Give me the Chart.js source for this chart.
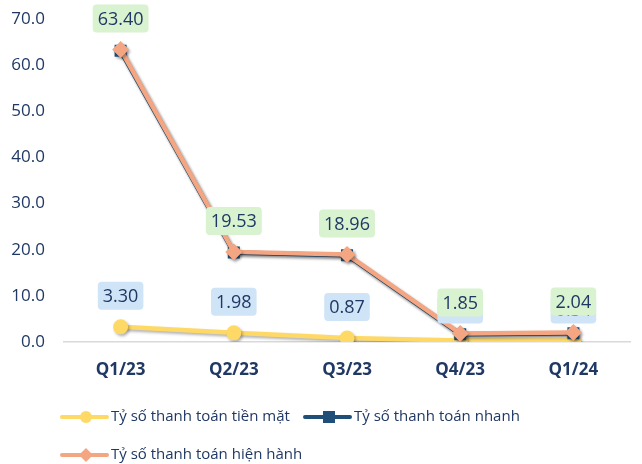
<!DOCTYPE html>
<html>
<head>
<meta charset="utf-8">
<script src="https://cdn.jsdelivr.net/npm/chart.js@4.4.1/dist/chart.umd.min.js"></script>
<style>
html,body{margin:0;padding:0;background:#fff;}
#wrap{width:642px;height:464px;position:relative;}
</style>
</head>
<body>
<div id="wrap"><canvas id="c" width="642" height="464"></canvas></div>
<script>
const categories = ["Q1/23", "Q2/23", "Q3/23", "Q4/23", "Q1/24"];
const cashRatio = [3.30, 1.98, 0.87, 0.30, 0.34];
const quickRatio = [63.1, 19.4, 18.8, 1.7, 1.9];
const currentRatio = [63.40, 19.53, 18.96, 1.85, 2.04];
const seriesNames = ["Tỷ số thanh toán tiền mặt", "Tỷ số thanh toán nhanh", "Tỷ số thanh toán hiện hành"];
const yTicks = [0, 10, 20, 30, 40, 50, 60, 70];

const NAVY = "#1F3864";
const FONT = "'Open Sans', 'Noto Sans', sans-serif";

const shadowPlugin = {
  id: 'shadow',
  beforeDatasetsDraw(chart) {
    const ctx = chart.ctx;
    ctx.save();
    ctx.shadowColor = 'rgba(0,0,0,0.3)';
    ctx.shadowBlur = 3;
    ctx.shadowOffsetX = 1.5;
    ctx.shadowOffsetY = 2;
  },
  afterDatasetsDraw(chart) {
    chart.ctx.restore();
  }
};

function roundRect(ctx, x, y, w, h, r) {
  ctx.beginPath();
  ctx.moveTo(x + r, y);
  ctx.lineTo(x + w - r, y);
  ctx.quadraticCurveTo(x + w, y, x + w, y + r);
  ctx.lineTo(x + w, y + h - r);
  ctx.quadraticCurveTo(x + w, y + h, x + w - r, y + h);
  ctx.lineTo(x + r, y + h);
  ctx.quadraticCurveTo(x, y + h, x, y + h - r);
  ctx.lineTo(x, y + r);
  ctx.quadraticCurveTo(x, y, x + r, y);
  ctx.closePath();
}

const labelPlugin = {
  id: 'valueLabels',
  afterDatasetsDraw(chart) {
    const ctx = chart.ctx;
    const cfg = [
      { idx: 0, bg: '#CFE4F7' },
      { idx: 2, bg: '#D9F2D0' }
    ];
    ctx.save();
    ctx.font = "18px " + FONT;
    ctx.textAlign = 'center';
    ctx.textBaseline = 'middle';
    cfg.forEach(c => {
      const meta = chart.getDatasetMeta(c.idx);
      const data = chart.data.datasets[c.idx].data;
      meta.data.forEach((pt, i) => {
        const txt = data[i].toFixed(2);
        const w = ctx.measureText(txt).width + 10;
        const h = 28;
        const cx = pt.x, cy = pt.y - 31;
        ctx.fillStyle = c.bg;
        roundRect(ctx, cx - w / 2, cy - h / 2, w, h, 4);
        ctx.fill();
        ctx.fillStyle = NAVY;
        ctx.fillText(txt, cx, cy + 1);
      });
    });
    ctx.restore();
  }
};

const legendPlugin = {
  id: 'customLegend',
  afterDraw(chart) {
    const ctx = chart.ctx;
    const items = [
      { ds: 0, x: 62, y: 417 },
      { ds: 1, x: 305, y: 417 },
      { ds: 2, x: 62, y: 455 }
    ];
    ctx.save();
    items.forEach(it => {
      const d = chart.data.datasets[it.ds];
      ctx.strokeStyle = d.borderColor;
      ctx.lineWidth = 4;
      ctx.lineCap = 'round';
      ctx.beginPath();
      ctx.moveTo(it.x, it.y);
      ctx.lineTo(it.x + 45, it.y);
      ctx.stroke();
      const mx = it.x + 24;
      ctx.fillStyle = d.pointBackgroundColor;
      if (d.pointStyle === 'circle') {
        ctx.beginPath(); ctx.arc(mx, it.y, 6, 0, Math.PI * 2); ctx.fill();
      } else if (d.pointStyle === 'rect') {
        ctx.fillRect(mx - 6, it.y - 6, 12, 12);
      } else {
        ctx.beginPath();
        ctx.moveTo(mx, it.y - 7); ctx.lineTo(mx + 7, it.y); ctx.lineTo(mx, it.y + 7); ctx.lineTo(mx - 7, it.y);
        ctx.closePath(); ctx.fill();
      }
      ctx.fillStyle = NAVY;
      ctx.font = "15px " + FONT;
      ctx.textAlign = 'left';
      ctx.textBaseline = 'middle';
      ctx.fillText(seriesNames[it.ds], it.x + 49, it.y);
    });
    ctx.restore();
  }
};

new Chart(document.getElementById('c'), {
  type: 'line',
  data: {
    labels: categories,
    datasets: [
      {
        label: seriesNames[0], data: cashRatio, order: 3,
        borderColor: '#FFD966', backgroundColor: '#FFD966',
        pointBackgroundColor: '#FFD966', pointBorderColor: '#FFD966', pointBorderWidth: 0,
        pointStyle: 'circle', pointRadius: 7.5, borderWidth: 4.5, tension: 0
      },
      {
        label: seriesNames[1], data: quickRatio, order: 2,
        borderColor: '#1F4E79', backgroundColor: '#1F4E79',
        pointBackgroundColor: '#1F4E79', pointBorderColor: '#1F4E79', pointBorderWidth: 0,
        pointStyle: 'rect', pointRadius: 8.5, borderWidth: 4.5, tension: 0
      },
      {
        label: seriesNames[2], data: currentRatio, order: 1,
        borderColor: '#F4A582', backgroundColor: '#F4A582',
        pointBackgroundColor: '#F4A582', pointBorderColor: '#F4A582', pointBorderWidth: 0,
        pointStyle: 'rectRot', pointRadius: 8.5, borderWidth: 4.5, tension: 0
      }
    ]
  },
  options: {
    responsive: false,
    animation: false,
    devicePixelRatio: 1,
    layout: { padding: { top: 19, right: 12, left: 0, bottom: 0 } },
    plugins: { legend: { display: false }, tooltip: { enabled: false } },
    scales: {
      x: {
        offset: true,
        grid: { display: false, drawTicks: false, offset: true },
        border: { display: true, color: '#D9D9D9', width: 1.5 },
        ticks: { color: NAVY, font: { family: FONT, size: 17, weight: 'bold' }, padding: 18, maxRotation: 0 },
        afterFit(s) { s.height = 122; }
      },
      y: {
        min: 0, max: 70,
        afterBuildTicks(s) { s.ticks = yTicks.map(v => ({ value: v })); },
        grid: { display: false, drawTicks: false },
        border: { display: false },
        ticks: { color: NAVY, font: { family: FONT, size: 17 }, padding: 19,
          callback: v => Number(v).toFixed(1) },
        afterFit(s) { s.width = 64; s.paddingTop = 0; s.paddingBottom = 0; }
      }
    }
  },
  plugins: [shadowPlugin, labelPlugin, legendPlugin]
});
</script>
</body>
</html>
